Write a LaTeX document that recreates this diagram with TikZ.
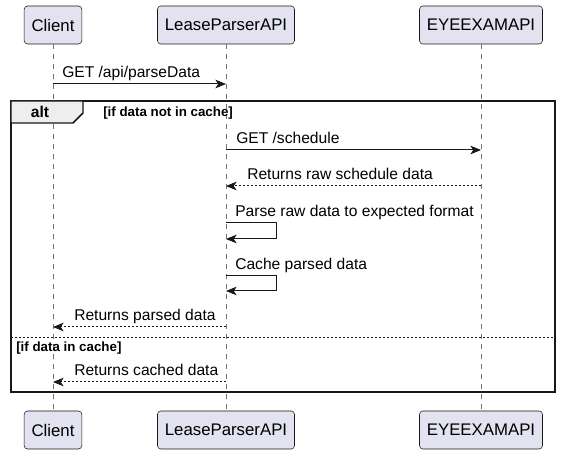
\documentclass[tikz,border=0pt]{standalone}
\usepackage{fontspec}
\setmainfont{Liberation Sans}
\usetikzlibrary{arrows.meta,positioning}
\definecolor{umlfill}{HTML}{E2E2F0}
\definecolor{umlline}{HTML}{181818}
\definecolor{tabfill}{HTML}{EEEEEE}

\begin{document}
\begin{tikzpicture}[
    x=0.75pt, y=-0.75pt,
    actor/.style={draw=umlline, fill=umlfill, rounded corners=2.5pt, font=\fontsize{12.6}{14}\selectfont,
        minimum height=28.5pt, inner xsep=5.5pt},
    lifeline/.style={draw=umlline!60, line width=0.5pt, dash pattern=on 3.75pt off 3.75pt},
    msg/.style={draw=umlline, line width=0.75pt, -{Stealth[length=8pt, width=6.5pt, inset=2.2pt]}},
    reply/.style={msg, dash pattern=on 1.5pt off 1.5pt},
    lbl/.style={anchor=base west, inner sep=0pt, font=\fontsize{11.7}{13}\selectfont},
    cond/.style={anchor=base west, inner sep=0pt, font=\fontsize{10}{12}\selectfont\bfseries},
    frame/.style={draw=umlline, line width=1.1pt}
]
\useasboundingbox[fill=white] (0,0) rectangle (562,456);

% participants
\node[actor] (client) at (53,25) {Client};
\node[actor] (lease) at (226,25) {LeaseParserAPI};
\node[actor] (eyee) at (481,25) {EYEEXAMAPI};
\node[actor] (clientB) at (53,430) {Client};
\node[actor] (leaseB) at (226,430) {LeaseParserAPI};
\node[actor] (eyeeB) at (481,430) {EYEEXAMAPI};

\draw[lifeline] (client) -- (clientB);
\draw[lifeline] (lease) -- (leaseB);
\draw[lifeline] (eyee) -- (eyeeB);

% alt frame
\draw[frame] (11,101) rectangle (555,392);
\draw[frame, fill=tabfill] (11,101) -- (83,101) -- (83,113) -- (73,123) -- (11,123) -- cycle;
\node[anchor=base, inner sep=0pt, font=\fontsize{11.7}{13}\selectfont\bfseries] (alt) at (40,118) {alt};
\node[cond] (c1) at (103,117) {[if data not in cache]};
\draw[umlline, line width=0.75pt, dash pattern=on 1.5pt off 1.5pt] (11,338) -- (555,338);
\node[cond] (c2) at (16,352) {[if data in cache]};

% messages
\draw[msg] (client |- 0,84) -- (lease |- 0,84);
\node[lbl] (m1) at (62,78) {GET /api/parseData};

\draw[msg] (lease |- 0,150) -- (eyee |- 0,150);
\node[lbl] (m2) at (236,144) {GET /schedule};

\draw[reply] (eyee |- 0,186) -- (lease |- 0,186);
\node[lbl] (m3) at (247,180) {Returns raw schedule data};

\draw[msg] (lease |- 0,223) -- ++(50,0) -- ++(0,16) -- (lease |- 0,239);
\node[lbl] (m4) at (235,217) {Parse raw data to expected format};

\draw[msg] (lease |- 0,276) -- ++(50,0) -- ++(0,15) -- (lease |- 0,291);
\node[lbl] (m5) at (235,270) {Cache parsed data};

\draw[reply] (lease |- 0,327) -- (client |- 0,327);
\node[lbl] (m6) at (74,321) {Returns parsed data};

\draw[reply] (lease |- 0,382) -- (client |- 0,382);
\node[lbl] (m7) at (74,376) {Returns cached data};

\end{tikzpicture}
\end{document}
